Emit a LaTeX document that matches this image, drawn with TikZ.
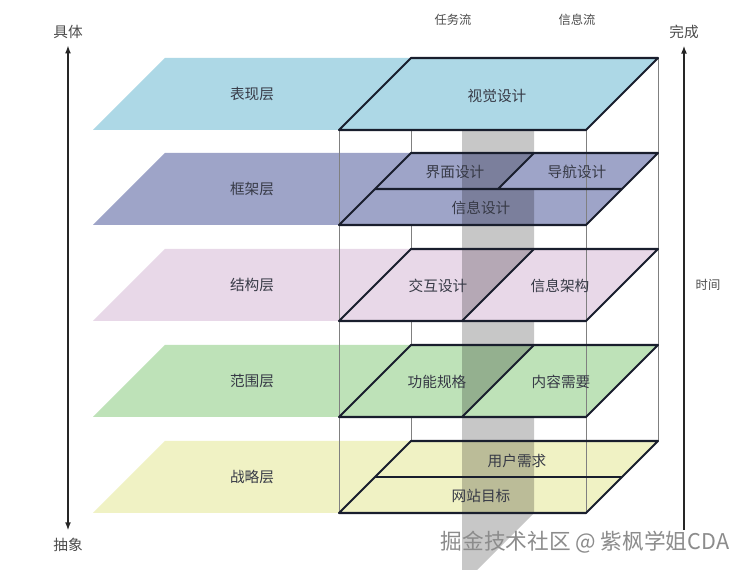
\documentclass[tikz,border=0pt]{standalone}
\usepackage{fontspec}
\usepackage{tikz}
\usepackage{xcolor}
\usetikzlibrary{arrows.meta}
\newfontfamily\cjk{Noto Sans CJK SC}
\definecolor{surface}{RGB}{173,216,230}
\definecolor{skeleton}{RGB}{158,164,200}
\definecolor{structure}{RGB}{232,216,232}
\definecolor{scope}{RGB}{190,226,184}
\definecolor{strategy}{RGB}{240,242,196}
\definecolor{edge_dark}{RGB}{25,30,45}
\definecolor{label_text}{RGB}{55,58,70}

\begin{document}
\begin{tikzpicture}[x=0.03cm, y=-0.03cm,
        face/.style = {draw=edge_dark, line width=1.8pt, line join=round},
        pillar/.style = {draw=black!50, line width=0.8pt},
        tag/.style = {font=\cjk\fontsize{12.5}{14}\selectfont, text=label_text},
        side/.style = {font=\cjk\fontsize{12.5}{14}\selectfont, text=black!70},
        small/.style = {font=\cjk\fontsize{10.5}{12}\selectfont, text=black!70},
        axis/.style = {draw=black!85, line width=1.4pt}
    ]
    \fill[white] (0,0) rectangle (745,570);
    \useasboundingbox (0,0) rectangle (745,570);

    \draw[pillar] (411,58) -- (411,441) (658,58) -- (658,441);

    \foreach \ty/\col/\name/\lab in {58/surface/pres/表现层, 153/skeleton/skel/框架层,
        249/structure/stru/结构层, 345/scope/scop/范围层, 441/strategy/stra/战略层}{
        \fill[\col] (93,\ty+72) -- (165,\ty) -- (658,\ty) -- (586,\ty+72) -- cycle;
        \node[tag] (\name) at (252,\ty+36) {\lab};
    }

    \fill[black, opacity=0.22] (462,130) -- (534,130) -- (534,513) -- (477,570) -- (462,570) -- cycle;
    \fill[skeleton] (498,189) -- (534,153) -- (658,153) -- (622,189) -- cycle;
    \fill[structure] (462,321) -- (534,249) -- (658,249) -- (586,321) -- cycle;
    \fill[scope] (462,417) -- (534,345) -- (658,345) -- (586,417) -- cycle;

    \draw[pillar] (339,130) -- (339,513) (586,130) -- (586,513);

    \foreach \ty in {58,153,249,345,441}
        \draw[face] (339,\ty+72) -- (411,\ty) -- (658,\ty) -- (586,\ty+72) -- cycle;
    \draw[face] (375,189) -- (622,189) (534,153) -- (498,189);
    \draw[face] (534,249) -- (462,321) (534,345) -- (462,417);
    \draw[face] (375,477) -- (622,477);

    \node[tag] (visual) at (497,96) {视觉设计};
    \node[tag] (iface) at (455,172) {界面设计};
    \node[tag] (navi) at (577,172) {导航设计};
    \node[tag] (infod) at (481,208) {信息设计};
    \node[tag] (interact) at (438,286) {交互设计};
    \node[tag] (arch) at (560,286) {信息架构};
    \node[tag] (func) at (437,382) {功能规格};
    \node[tag] (content) at (561,382) {内容需要};
    \node[tag] (needs) at (517,461) {用户需求};
    \node[tag] (goals) at (481,496) {网站目标};

    \node[small] (task) at (453,20) {任务流};
    \node[small] (info) at (577,20) {信息流};

    \node[side] (concrete) at (68,32) {具体};
    \node[side] (abstract) at (68,545) {抽象};
    \draw[axis, {Latex[length=7pt,width=5pt]}-{Latex[length=7pt,width=5pt]}, shorten <=2pt, shorten >=3pt] (concrete) -- (abstract);

    \node[side] (done) at (684,32) {完成};
    \node[small] (time) at (708,285) {时间};
    \coordinate (start) at (684,530);
    \draw[axis, -{Latex[length=7pt,width=5pt]}, shorten >=2pt] (start) -- (done);

    \node[font=\cjk\fontsize{18.5}{20}\selectfont, text=black!45] (mark) at (585,542) {掘金技术社区 @ 紫枫学姐CDA};
\end{tikzpicture}
\end{document}
